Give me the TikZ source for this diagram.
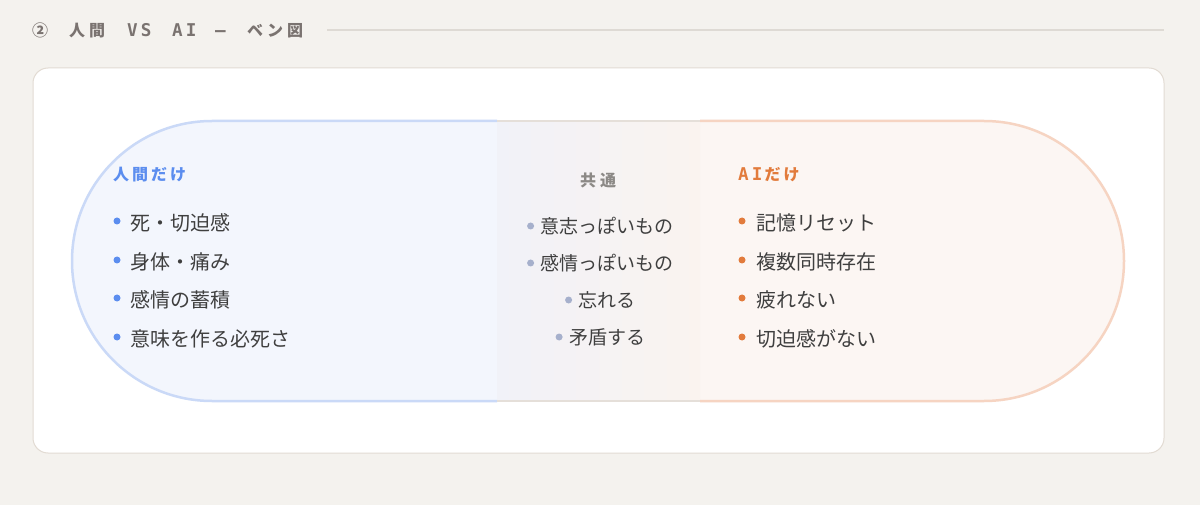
\documentclass[tikz,border=0pt]{standalone}
\usepackage{fontspec}
\usetikzlibrary{positioning}
\setmainfont{Noto Sans CJK JP}
\newfontfamily\headcjk{Noto Sans CJK JP}
\newfontfamily\headmono[LetterSpace=18,Scale=1.1]{DejaVu Sans Mono}

\definecolor{pagebg}{HTML}{F4F2EE}
\definecolor{cardline}{HTML}{E2DBD3}
\definecolor{headgray}{HTML}{7A7370}
\definecolor{rulegray}{HTML}{DEDAD4}
\definecolor{humanblue}{HTML}{5B8DEF}
\definecolor{humanfillc}{HTML}{F3F6FD}
\definecolor{humanlinec}{HTML}{CAD9F7}
\definecolor{aiorange}{HTML}{E27B3C}
\definecolor{aifillc}{HTML}{FCF6F3}
\definecolor{ailinec}{HTML}{F6D4C2}
\definecolor{bothleft}{HTML}{F1F2F8}
\definecolor{bothright}{HTML}{FAF3EF}
\definecolor{bothline}{HTML}{E5DFD9}
\definecolor{bothdot}{HTML}{A6B0CC}
\definecolor{bothtitle}{HTML}{8C8986}
\definecolor{itemgray}{HTML}{3F3F3F}

\def\humanlist{{223/h1/死・切迫感}, {262/h2/身体・痛み}, {300/h3/感情の蓄積}, {339/h4/意味を作る必死さ}}
\def\bothlist{{226/c1/意志っぽいもの}, {263/c2/感情っぽいもの}, {300/c3/忘れる}, {337/c4/矛盾する}}
\def\ailist{{223/a1/記憶リセット}, {262/a2/複数同時存在}, {300/a3/疲れない}, {339/a4/切迫感がない}}

\tikzstyle{title}=[anchor=west,inner sep=0pt,text=headgray,font=\fontsize{16}{16}\selectfont\bfseries]
\tikzstyle{rule}=[draw=rulegray,line width=1.5pt]
\tikzstyle{card}=[draw=cardline,fill=white,line width=1pt,rounded corners=15pt]
\tikzstyle{heading}=[anchor=west,inner sep=0pt,font=\fontsize{16}{16}\selectfont\bfseries]
\tikzstyle{item}=[anchor=west,inner sep=0pt,text=itemgray,font=\fontsize{20}{20}\selectfont]
\tikzstyle{dot}=[circle,inner sep=0pt,minimum size=7pt]
\tikzstyle{human-line}=[draw=humanlinec,line width=2.5pt]
\tikzstyle{ai-line}=[draw=ailinec,line width=2.5pt]
\tikzstyle{both-line}=[draw=bothline,line width=2.5pt]

\begin{document}
\begin{tikzpicture}[x=1pt,y=-1pt]
  \useasboundingbox[fill=pagebg] (0,0) rectangle (1200,505);

  % Title and rule
  \node[title] (title) at (32,30) {%
    \makebox[37pt][l]{\headcjk ②}%
    \makebox[58pt][l]{\headcjk 人\kern4pt 間}%
    \makebox[45pt][l]{\headmono VS}%
    \makebox[43pt][l]{\headmono AI}%
    \makebox[32pt][l]{\headmono –}%
    {\headcjk ベ\kern4pt ン\kern4pt 図}};
  \coordinate (rule-a) at (327,30);
  \coordinate (rule-b) at (1164,30);
  \path[rule] (rule-a) -- (rule-b);

  \path[card] (33,68) rectangle (1164,453);

  % The two sets
  \fill[humanfillc] (700,121) -- (212,121) arc (270:90:140) -- (700,401) -- cycle;
  \fill[aifillc] (497,121) -- (984,121) arc (-90:90:140) -- (497,401) -- cycle;
  \shade[left color=bothleft,right color=bothright] (497,121) rectangle (700,401);

  \path[human-line] (497,121) -- (212,121) arc (270:90:140) -- (497,401);
  \path[ai-line] (700,121) -- (984,121) arc (-90:90:140) -- (700,401);
  \path[both-line] (497,121) -- (700,121);
  \path[both-line] (497,401) -- (700,401);

  % Headings
  \node[heading,text=humanblue] (human) at (113,175) {人\kern3pt 間\kern3pt だ\kern3pt け};
  \node[heading,text=bothtitle,anchor=center] (both) at (598,180) {共\kern4pt 通};
  \node[heading,text=aiorange] (ai) at (738,175) {\headmono AI\kern2pt\headcjk だ\kern3pt け};

  % Then the items with their dots
  \foreach \y/\name/\txt in \humanlist {
    \node[item] (\name) at (130,\y) {\txt};
    \node[dot,fill=humanblue] (\name-dot) at (117,\y-2) {};
  }

  \foreach \y/\name/\txt in \bothlist {
    \node[item,anchor=center,font=\fontsize{19}{19}\selectfont] (\name) at (607,\y) {\txt};
    \node[dot,fill=bothdot,left=6pt of \name.west] (\name-dot) {};
  }

  \foreach \y/\name/\txt in \ailist {
    \node[item] (\name) at (756,\y) {\txt};
    \node[dot,fill=aiorange] (\name-dot) at (742,\y-2) {};
  }
\end{tikzpicture}
\end{document}
